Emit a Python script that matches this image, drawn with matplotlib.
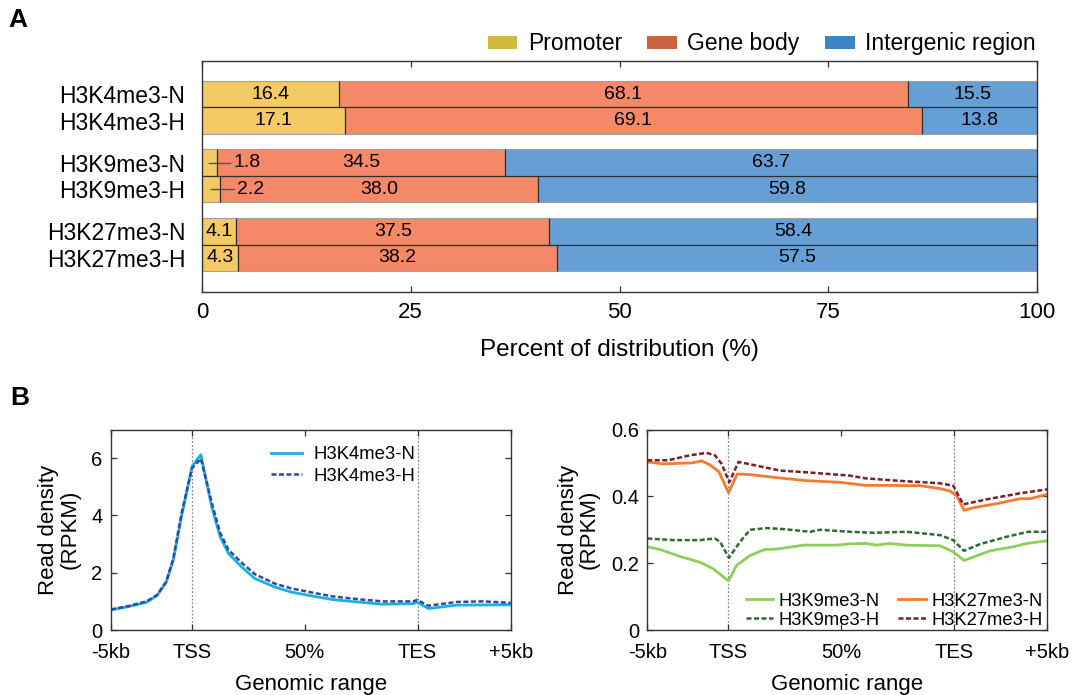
"""
Distribution des pics d'histones (A) et profils de densité de lecture (B).
"""

import matplotlib.pyplot as plt
from matplotlib.patches import Patch

plt.rcParams['font.family'] = ['Liberation Sans', 'DejaVu Sans']

# Panneau A - pourcentages par région
samples = ['H3K4me3-N', 'H3K4me3-H', 'H3K9me3-N', 'H3K9me3-H', 'H3K27me3-N', 'H3K27me3-H']
promoter = [16.4, 17.1, 1.8, 2.2, 4.1, 4.3]
gene_body = [68.1, 69.1, 34.5, 38.0, 37.5, 38.2]
intergenic = [15.5, 13.8, 63.7, 59.8, 58.4, 57.5]
region_names = ['Promoter', 'Gene body', 'Intergenic region']

# Panneau B - profils (abscisse en bins 0-100)
range_ticks = [0, 20.3, 48.5, 76.7, 100]
range_labels = ['-5kb', 'TSS', '50%', 'TES', '+5kb']

k4_n_x = [0, 4.5, 8.9, 11.5, 13.8, 15.6, 17.7, 20.3, 22.5, 25.2, 27.3, 29.4, 32.7, 36.0,
          41.0, 45.2, 50.6, 55.6, 62.3, 68.1, 75.6, 76.6, 79.4, 86.5, 100]
k4_n_y = [0.70, 0.82, 0.97, 1.20, 1.66, 2.44, 4.00, 5.72, 6.12, 4.30, 3.26, 2.67, 2.20, 1.80,
          1.50, 1.32, 1.18, 1.06, 0.97, 0.90, 0.92, 0.97, 0.75, 0.87, 0.88]
k4_h_x = [0, 4.5, 8.9, 11.5, 13.8, 15.6, 17.7, 20.3, 22.5, 25.2, 27.3, 29.4, 32.7, 36.0,
          41.0, 45.2, 50.6, 55.6, 62.3, 68.1, 75.6, 76.6, 79.4, 86.5, 93.0, 100]
k4_h_y = [0.72, 0.84, 1.00, 1.22, 1.68, 2.50, 4.10, 5.65, 5.98, 4.45, 3.40, 2.80, 2.35, 1.95,
          1.62, 1.45, 1.30, 1.17, 1.07, 1.00, 1.00, 1.05, 0.85, 0.98, 1.00, 0.95]

k9_n_x = [0, 3.2, 8.2, 13.2, 16.5, 20.3, 22.3, 25.7, 29.4, 32.2, 39.0, 47.3, 50.7, 54.8,
          57.3, 60.7, 64.8, 73.2, 76.5, 79.2, 85.7, 91.5, 94.8, 100]
k9_n_y = [0.249, 0.241, 0.220, 0.203, 0.183, 0.147, 0.193, 0.223, 0.241, 0.242, 0.254, 0.254,
          0.258, 0.259, 0.254, 0.259, 0.254, 0.252, 0.234, 0.208, 0.237, 0.249, 0.259, 0.267]
k9_h_x = [0, 6.5, 13.2, 16.9, 18.2, 20.4, 23.2, 25.7, 29.8, 34.0, 40.7, 43.2, 50.7, 56.5,
          64.8, 73.2, 76.5, 79.2, 83.2, 89.8, 95.3, 100]
k9_h_y = [0.274, 0.269, 0.269, 0.274, 0.264, 0.216, 0.264, 0.300, 0.305, 0.302, 0.294, 0.300,
          0.294, 0.291, 0.294, 0.284, 0.269, 0.237, 0.257, 0.279, 0.294, 0.294]

k27_n_x = [0, 4.0, 11.1, 13.6, 15.7, 17.9, 20.3, 22.5, 25.7, 31.5, 39.8, 48.2, 54.4, 68.2,
           73.2, 75.7, 77.4, 79.2, 81.5, 87.3, 93.2, 95.7, 100]
k27_n_y = [0.503, 0.497, 0.500, 0.506, 0.494, 0.474, 0.411, 0.467, 0.465, 0.457, 0.447, 0.442,
           0.433, 0.432, 0.423, 0.416, 0.401, 0.358, 0.366, 0.378, 0.393, 0.393, 0.406]
k27_h_x = [0, 5.2, 10.7, 14.8, 16.9, 18.6, 20.5, 22.8, 27.3, 33.2, 39.8, 50.7, 54.4, 62.3,
           73.2, 76.5, 79.0, 85.7, 93.2, 100]
k27_h_y = [0.508, 0.508, 0.523, 0.530, 0.523, 0.497, 0.442, 0.503, 0.492, 0.477, 0.472, 0.462,
           0.454, 0.447, 0.439, 0.432, 0.376, 0.393, 0.409, 0.421]

BAR_COLORS = ['#F5C963', '#F58866', '#659FD5']
LEGEND_COLORS = ['#D3B840', '#CB6343', '#3B85C3']
SPINE = '#333333'
EDGE_DARK = '#2f2f2f'


def style_box(ax, labelsize):
    for sp in ax.spines.values():
        sp.set_color(SPINE)
        sp.set_linewidth(1.0)
    ax.tick_params(direction='in', top=True, right=True, labelsize=labelsize,
                   color=SPINE, length=4, width=0.9)


fig = plt.figure(figsize=(10.72, 6.95), dpi=100)

# ---------------- Panneau A ----------------
ax_a = fig.add_axes([0.1884, 0.5799, 0.7790, 0.3323])
pos = [i + (i // 2) * 0.59 for i in range(len(samples))]

lefts = [0] * len(samples)
for k, vals in enumerate([promoter, gene_body, intergenic]):
    ax_a.barh(pos, vals, left=lefts, height=1.0, color=BAR_COLORS[k],
              edgecolor='#a0a0a0', linewidth=0.8)
    for p, l, v in zip(pos, lefts, vals):
        if v >= 3:
            ax_a.text(l + v / 2, p, f"{v:.1f}", ha='center', va='center', fontsize=14)
        else:
            # petite valeur : trait de rappel puis étiquette à droite
            ax_a.plot([l + v / 2, l + v + 1.6], [p, p], color='#555555', lw=1.0)
            ax_a.text(l + v + 2.0, p, f"{v:.1f}", ha='left', va='center', fontsize=14)
    lefts = [l + v for l, v in zip(lefts, vals)]
    # séparations foncées entre segments
    if k < 2:
        ax_a.vlines(lefts, [p - 0.5 for p in pos], [p + 0.5 for p in pos],
                    color=EDGE_DARK, lw=0.9)

# trait foncé entre N et H de chaque groupe
ax_a.hlines([pos[i] + 0.5 for i in range(0, len(pos), 2)], 0, 100, color=EDGE_DARK, lw=0.9)

ax_a.set_xlim(0, 100)
ax_a.set_ylim(pos[-1] + 1.29, -1.245)
ax_a.set_yticks(pos)
ax_a.set_yticklabels(samples)
ax_a.set_xticks([0, 25, 50, 75, 100])
style_box(ax_a, 16)
ax_a.tick_params(axis='y', length=0, pad=12, labelsize=16.5)
ax_a.tick_params(axis='y', right=False)
ax_a.tick_params(axis='x', pad=7)
ax_a.set_xlabel('Percent of distribution (%)', fontsize=17.5, labelpad=12)

handles = [Patch(facecolor=c, edgecolor='none') for c in LEGEND_COLORS]
ax_a.legend(handles, region_names, loc='lower right', bbox_to_anchor=(1.005, 1.0),
            ncol=3, frameon=False, fontsize=16.5, handlelength=1.3, handleheight=0.5,
            handletextpad=0.45, columnspacing=1.1, borderaxespad=0.15, borderpad=0.1)

# ---------------- Panneau B ----------------
ax_l = fig.add_axes([0.1035, 0.0935, 0.3729, 0.2885])
ax_r = fig.add_axes([0.6038, 0.0935, 0.3731, 0.2885])

for ax in (ax_l, ax_r):
    for xv in (range_ticks[1], range_ticks[3]):
        ax.axvline(xv, color='#888888', lw=0.9, ls=(0, (1.5, 1.5)), zorder=1)

dash = (0, (2.0, 1.0))
ax_l.plot(k4_n_x, k4_n_y, color='#1AAFE6', lw=2.0, label='H3K4me3-N')
ax_l.plot(k4_h_x, k4_h_y, color='#2E4B9E', lw=1.8, ls=dash, label='H3K4me3-H')
ax_l.set_ylim(0, 7)
ax_l.set_yticks([0, 2, 4, 6])
ax_l.legend(loc='upper left', bbox_to_anchor=(0.36, 1.0), frameon=False, fontsize=13.3,
            handlelength=1.65, handletextpad=0.6, labelspacing=0.25)

ax_r.plot(k9_n_x, k9_n_y, color='#8BD05A', lw=2.0, label='H3K9me3-N')
ax_r.plot(k9_h_x, k9_h_y, color='#2E6B30', lw=1.8, ls=dash, label='H3K9me3-H')
ax_r.plot(k27_n_x, k27_n_y, color='#F47A30', lw=2.0, label='H3K27me3-N')
ax_r.plot(k27_h_x, k27_h_y, color='#7B1F1F', lw=1.8, ls=dash, label='H3K27me3-H')
ax_r.set_ylim(0, 0.6)
ax_r.set_yticks([0, 0.2, 0.4, 0.6])
ax_r.set_yticklabels(['0', '0.2', '0.4', '0.6'])
ax_r.legend(loc='lower left', bbox_to_anchor=(0.205, -0.075), ncol=2, frameon=False,
            fontsize=13.2, handlelength=1.5, handletextpad=0.3, labelspacing=0.1,
            columnspacing=1.0)

for ax in (ax_l, ax_r):
    ax.set_xlim(0, 100)
    ax.set_xticks(range_ticks)
    ax.set_xticklabels(range_labels)
    style_box(ax, 14.5)
    ax.tick_params(axis='x', pad=9)
    ax.tick_params(axis='y', pad=6)
    ax.set_xlabel('Genomic range', fontsize=16, labelpad=9)
    ax.set_ylabel('Read density\n(RPKM)', fontsize=16, labelpad=8, linespacing=1.0)

fig.text(0.017, 0.971, 'A', fontsize=19, fontweight='bold', ha='center', va='center')
fig.text(0.018, 0.427, 'B', fontsize=19, fontweight='bold', ha='center', va='center')

fig.savefig('out.png', dpi=100)
